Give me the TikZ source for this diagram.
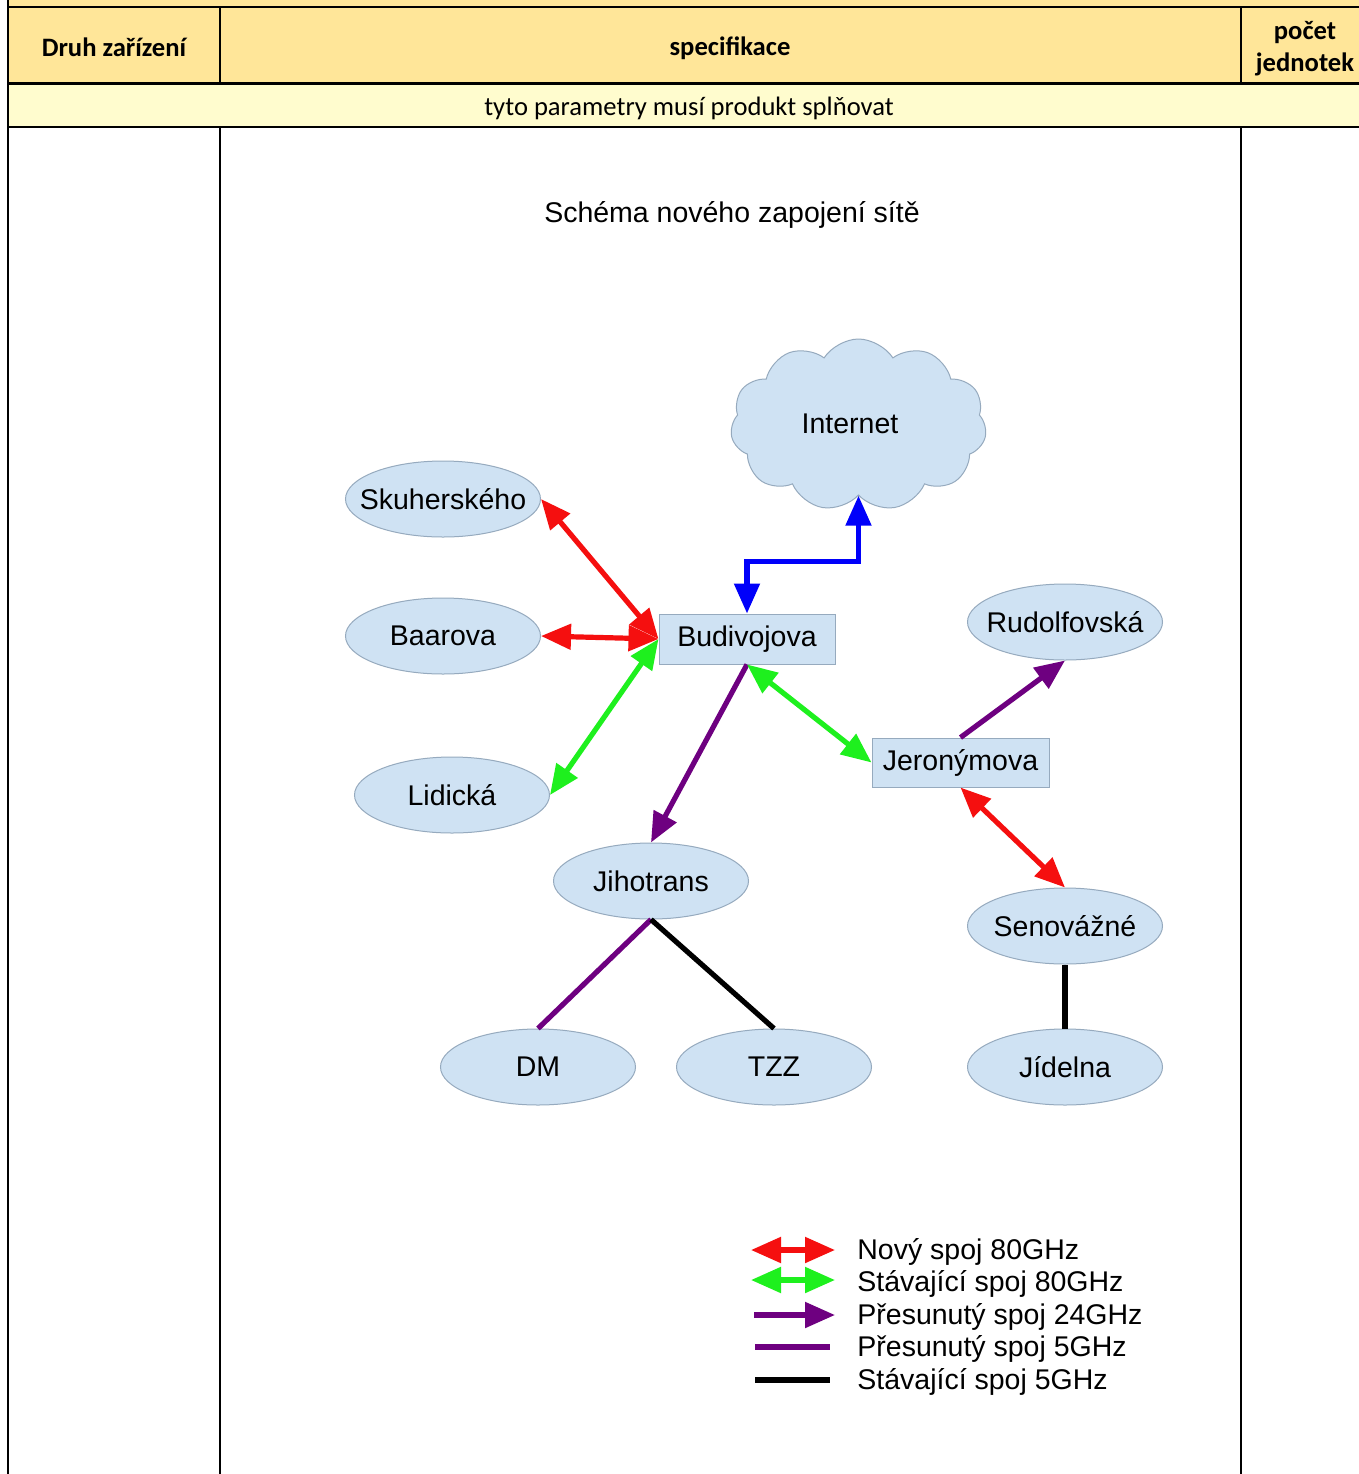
\documentclass[tikz,border=0pt]{standalone}
\usepackage{fontspec}
\setmainfont{Liberation Sans}
\newfontfamily\carl{Carlito}
\usetikzlibrary{arrows.meta,shapes.geometric,shapes.symbols,calc}

\definecolor{hdr}{RGB}{255,230,153}
\definecolor{rowtwo}{RGB}{255,252,206}
\definecolor{nodefill}{RGB}{207,226,243}
\definecolor{nodeline}{RGB}{150,170,190}
\definecolor{myred}{RGB}{245,15,15}
\definecolor{mygreen}{RGB}{30,240,30}
\definecolor{myblue}{RGB}{0,0,250}
\definecolor{mypurple}{RGB}{110,0,128}

\begin{document}
\begin{tikzpicture}[x=0.5pt,y=-0.5pt,
  diafont/.style={font=\fontsize{14.25}{17}\selectfont},
  site/.style={ellipse, draw=nodeline, fill=nodefill, line width=0.5pt,
    minimum width=97.5pt, minimum height=38pt, inner sep=0pt,
    label={[diafont, inner sep=0pt]center:#1}},
  hub/.style={rectangle, draw=nodeline, fill=nodefill, line width=0.5pt,
    minimum height=25pt, minimum width=88pt, inner sep=0pt, diafont},
  tbl/.style={line width=1.2pt, black},
  hdrtext/.style={font=\carl\bfseries\fontsize{13.3}{15.5}\selectfont, align=center},
  link/.style={line width=2.6pt},
  headtwo/.style={{Triangle[length=15pt,width=12.5pt]}-{Triangle[length=15pt,width=12.5pt]}},
  headone/.style={-{Triangle[length=15pt,width=12.5pt]}}
]
% canvas
\useasboundingbox (0,0) rectangle (1359,1474);
\fill[white] (0,0) rectangle (1359,1474);
% table
\fill[hdr] (8,0) rectangle (1359,83);
\fill[rowtwo] (8,83) rectangle (1359,127);
\draw[tbl] (8,7) -- (1359,7);
\draw[tbl] (8,83.5) -- (1359,83.5);
\draw[tbl] (8,127) -- (1359,127);
\draw[tbl] (8,0) -- (8,1474);
\draw[tbl] (220,7) -- (220,83.5);
\draw[tbl] (220,127) -- (220,1474);
\draw[tbl] (1241,7) -- (1241,83.5);
\draw[tbl] (1241,127) -- (1241,1474);
\node[hdrtext] (h1) at (114,47) {Druh zařízení};
\node[hdrtext] (h2) at (730,48) {specifikace};
\node[hdrtext, font=\carl\bfseries\fontsize{13.3}{16.3}\selectfont] (h3) at (1305,48.5) {počet\\jednotek};
\node[font=\carl\fontsize{13.3}{15.5}\selectfont] (r2) at (689,108.5) {tyto parametry musí produkt splňovat};

% title
\node[diafont] (title) at (732,215) {Schéma nového zapojení sítě};

% nodes
\node[cloud, cloud puffs=11, cloud puff arc=115, aspect=1.5, draw=nodeline, fill=nodefill,
  line width=0.5pt, minimum width=128pt, minimum height=86pt, inner sep=0pt, diafont] (inet) at (858.5,425) {};
\node[diafont] (inettext) at (850,424) {Internet};
\node[site=Skuherského] (skuh) at (443,499) {};
\node[site=Baarova] (baar) at (443,636) {};
\node[site=Lidická] (lid) at (452,795) {};
\node[hub] (bud) at (747,639) {Budivojova};
\node[site=Rudolfovská] (rud) at (1065,622) {};
\node[hub, minimum width=88.5pt, minimum height=24.5pt] (jer) at (960.5,762.5) {Jeronýmova};
\node[site=Jihotrans] (jih) at (651,881) {};
\node[site=Senovážné] (sen) at (1065,926) {};
\node[site=DM] (dm) at (538,1067) {};
\node[site=TZZ] (tzz) at (774,1067) {};
\node[site=Jídelna] (jid) at (1065,1067) {};

% connectors
\draw[link, myred, headtwo] (skuh.east) -- (bud.west);
\draw[link, myred, headtwo] (baar.east) -- (bud.west);
\draw[link, mygreen, headtwo] (lid.east) -- (bud.west);
\draw[link, myblue, headtwo] (bud.north) -- ++(0,-52) -| (inet.south);
\draw[link, mypurple, headone] (bud.south) -- (jih.north);
\draw[link, mygreen, headtwo] (bud.south) -- (jer.west);
\draw[link, mypurple, headone] (jer.north) -- (rud.south);
\draw[link, myred, headtwo] (jer.south) -- (sen.north);
\draw[link, mypurple] (jih.south) -- (dm.north);
\draw[link, black] (jih.south) -- (tzz.north);
\draw[link, black] (sen.south) -- (jid.north);

% legend
\coordinate (l1a) at (751,1250); \coordinate (l1b) at (835,1250);
\coordinate (l2a) at (751,1280); \coordinate (l2b) at (835,1280);
\coordinate (l3a) at (754,1315); \coordinate (l3b) at (835,1315);
\coordinate (l4a) at (755,1347); \coordinate (l4b) at (830,1347);
\coordinate (l5a) at (755,1380); \coordinate (l5b) at (830,1380);
\draw[link, myred, headtwo] (l1a) -- (l1b);
\draw[link, mygreen, headtwo] (l2a) -- (l2b);
\draw[link, mypurple, headone] (l3a) -- (l3b);
\draw[link, mypurple] (l4a) -- (l4b);
\draw[link, black] (l5a) -- (l5b);
\node[diafont, anchor=west, inner sep=0pt] (t1) at (857,1252) {Nový spoj 80GHz};
\node[diafont, anchor=west, inner sep=0pt] (t2) at (857,1284) {Stávající spoj 80GHz};
\node[diafont, anchor=west, inner sep=0pt] (t3) at (857,1317) {Přesunutý spoj 24GHz};
\node[diafont, anchor=west, inner sep=0pt] (t4) at (857,1349) {Přesunutý spoj 5GHz};
\node[diafont, anchor=west, inner sep=0pt] (t5) at (857,1382) {Stávající spoj 5GHz};
\end{tikzpicture}
\end{document}
